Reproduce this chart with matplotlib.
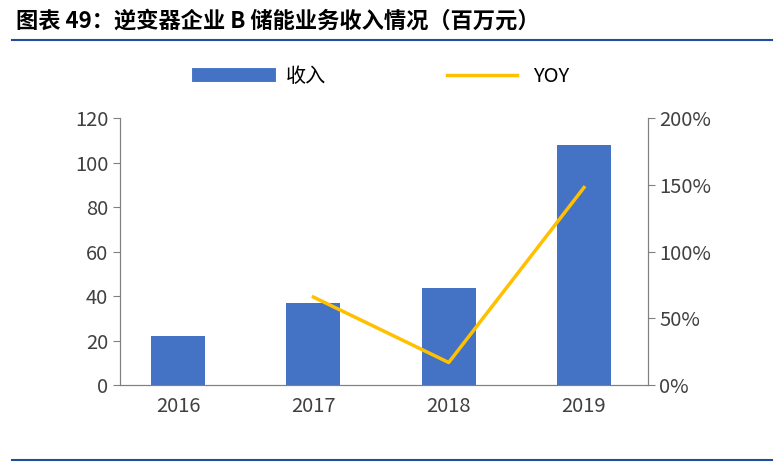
import matplotlib.pyplot as plt
import matplotlib.lines as mlines
plt.rcParams['font.family'] = ['Noto Sans CJK SC', 'DejaVu Sans']

years = ['2016', '2017', '2018', '2019']
revenue = [22, 37, 43.5, 108]
yoy_years = ['2017', '2018', '2019']
yoy = [66, 17, 148]

fig = plt.figure(figsize=(7.84, 4.63), dpi=100)
ax = fig.add_axes([0.153, 0.168, 0.673, 0.577])
x = range(len(years))
ax.bar(x, revenue, width=0.4, color='#4472C4', label='收入')
ax.set_ylim(0, 120)
ax.set_yticks(range(0, 121, 20))
ax.set_xticks(list(x))
ax.set_xticklabels(years)
ax.set_xlim(-0.43, 3.47)
ax2 = ax.twinx()
ax2.plot([years.index(y) for y in yoy_years], yoy, color='#FFC000', lw=2.5, label='YOY')
ax2.set_ylim(0, 200)
ax2.set_yticks(range(0, 201, 50))
ax2.set_yticklabels([f'{v}%' for v in range(0, 201, 50)])
for a in (ax, ax2):
    a.spines['top'].set_visible(False)
    for s in a.spines.values():
        s.set_color('#808080')
    a.tick_params(labelsize=14.5, colors='#404040', length=5, color='#808080')
ax.tick_params(axis='x', length=0, pad=8)
h1 = mlines.Line2D([], [], color='#4472C4', lw=10)
h2 = mlines.Line2D([], [], color='#FFC000', lw=2.5)
fig.legend([h1, h2], ['收入', 'YOY'], loc='center', bbox_to_anchor=(0.49, 0.834), ncol=2,
           frameon=False, fontsize=14.5, handlelength=3.5, columnspacing=6)
fig.text(0.02, 0.955, '图表 49：逆变器企业 B 储能业务收入情况（百万元）', fontsize=16,
         fontweight='bold', fontstyle='italic', va='center')
fig.add_artist(mlines.Line2D([0.015, 0.985], [0.913, 0.913], color='#1F4E9A', lw=1.5))
fig.add_artist(mlines.Line2D([0.015, 0.985], [0.007, 0.007], color='#1F4E9A', lw=1.5))
fig.savefig('out.png')
